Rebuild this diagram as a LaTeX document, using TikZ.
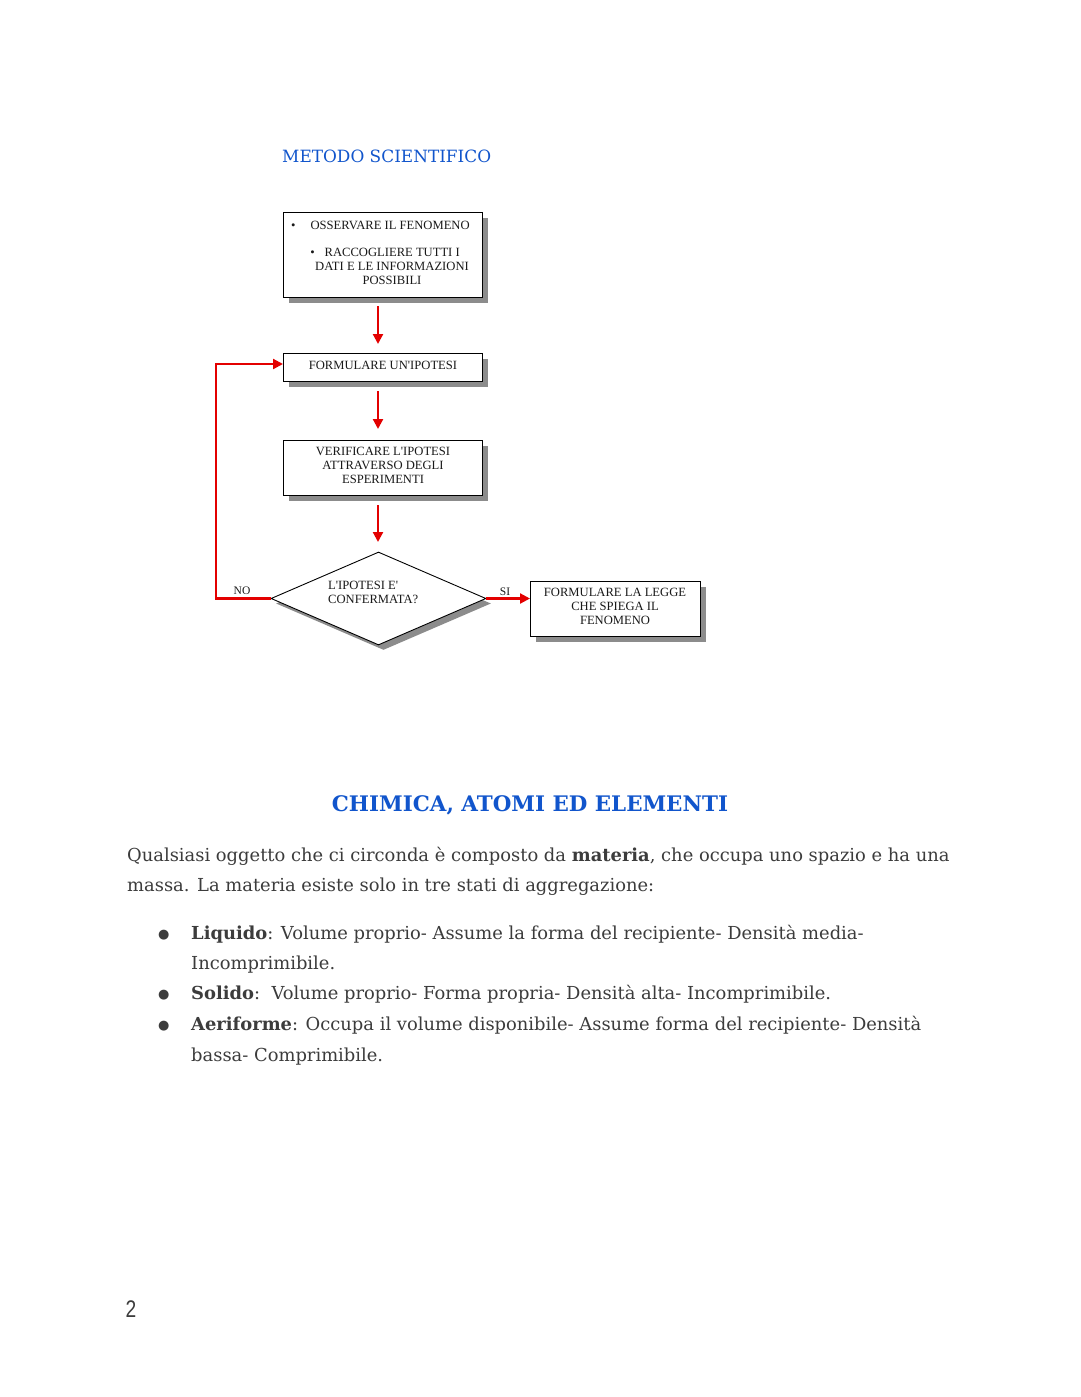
\documentclass[tikz,border=0pt]{standalone}
\usepackage{fontspec}
\setmainfont{DejaVu Serif}
\newfontfamily\tnr{Liberation Serif}
\newfontfamily\pgfont{Liberation Sans}
\usetikzlibrary{shapes.geometric,shadows,arrows.meta}
\definecolor{hblue}{HTML}{1155CC}
\definecolor{fred}{HTML}{E30000}
\definecolor{txt}{HTML}{3C3C3C}
\definecolor{shd}{HTML}{8C8C8C}
\tikzset{
  fbox/.style={draw=black, line width=0.9pt, fill=white, rectangle, inner sep=0pt,
    drop shadow={shadow xshift=6pt, shadow yshift=-6pt, fill=shd, opacity=1}},
  ftext/.style={font=\tnr\fontsize{12.6}{14}\selectfont, align=center, text=black!90, inner sep=0pt},
  farrow/.style={draw=fred, line width=2.2pt, -{Triangle[length=10pt,width=10pt]}},
  body/.style={font=\fontsize{17.9}{20}\selectfont, text=txt, anchor=base west, inner sep=0pt},
}
\begin{document}
\begin{tikzpicture}[x=1pt,y=-1pt]
\useasboundingbox[fill=white] (0,0) rectangle (1080,1397);

\node[font=\fontsize{16.9}{20}\selectfont, text=hblue, anchor=base west, inner sep=0pt] (t1) at (282,162) {METODO SCIENTIFICO};

% boxes
\node[fbox, minimum width=199pt, minimum height=85pt, anchor=north west] (b1) at (283,212) {};
\node[ftext, anchor=base west] (b1a) at (291,229) {•\hspace{15pt}OSSERVARE IL FENOMENO};
\node[ftext, anchor=north] (b1b) at (392,248) {\hspace{-14pt}•\hspace{10pt}RACCOGLIERE TUTTI I\\DATI E LE INFORMAZIONI\\POSSIBILI};

\node[fbox, minimum width=199pt, minimum height=28pt, anchor=north west] (b2) at (283,353) {};
\node[ftext] (b2t) at (383,365) {FORMULARE UN'IPOTESI};

\node[fbox, minimum width=199pt, minimum height=55pt, anchor=north west] (b3) at (283,440) {};
\node[ftext] (b3t) at (383,465) {VERIFICARE L'IPOTESI\\ATTRAVERSO DEGLI\\ESPERIMENTI};

\node[draw=black, line width=0.9pt, fill=white, diamond, inner sep=0pt, minimum width=215pt, minimum height=93pt,
  drop shadow={shadow xshift=5pt, shadow yshift=-5pt, fill=shd, opacity=1}] (d) at (378.5,598.5) {};
\node[ftext, align=left, anchor=west] (dt) at (328,592) {L'IPOTESI E'\\CONFERMATA?};

\node[fbox, minimum width=170pt, minimum height=55pt, anchor=north west] (b4) at (530,581) {};
\node[ftext] (b4t) at (615,606) {FORMULARE LA LEGGE\\CHE SPIEGA IL\\FENOMENO};

% arrows
\coordinate (a1s) at (378,306); \coordinate (a1e) at (378,344);
\coordinate (a2s) at (378,391); \coordinate (a2e) at (378,429);
\coordinate (a3s) at (378,505); \coordinate (a3e) at (378,542);
\coordinate (lp) at (216,364);
\draw[farrow] (a1s) -- (a1e);
\draw[farrow] (a2s) -- (a2e);
\draw[farrow] (a3s) -- (a3e);
\draw[farrow] (d.west) -| (lp) -- (lp -| b2.west);
\draw[farrow] (d.east) -- (d.east -| b4.west);
\node[ftext, font=\tnr\fontsize{11.5}{13}\selectfont] (no) at (242,591) {NO};
\node[ftext, font=\tnr\fontsize{11.5}{13}\selectfont] (si) at (505,592) {SI};

% text section
\node[font=\bfseries\fontsize{21.4}{25}\selectfont, text=hblue, inner sep=0pt, anchor=base] (h2) at (530,811) {CHIMICA, ATOMI ED ELEMENTI};

\node[body] (p1) at (127,861) {Qualsiasi oggetto che ci circonda è composto da \textbf{materia}, che occupa uno spazio e ha una};
\node[body] (p2) at (127,891) {massa. La materia esiste solo in tre stati di aggregazione:};

\node[body, font=\fontsize{13}{14}\selectfont] (bu1) at (158,938) {●};
\node[body] (l1) at (191,939) {\textbf{Liquido}: Volume proprio- Assume la forma del recipiente- Densità media-};
\node[body] (l1b) at (191,969) {Incomprimibile.};
\node[body, font=\fontsize{13}{14}\selectfont] (bu2) at (158,998) {●};
\node[body] (l2) at (191,999) {\textbf{Solido}:\ \ Volume proprio- Forma propria- Densità alta- Incomprimibile.};
\node[body, font=\fontsize{13}{14}\selectfont] (bu3) at (158,1029) {●};
\node[body] (l3) at (191,1030) {\textbf{Aeriforme}: Occupa il volume disponibile- Assume forma del recipiente- Densità};
\node[body] (l3b) at (191,1061) {bassa- Comprimibile.};

\node[font=\pgfont\fontsize{24}{26}\selectfont, text=txt, anchor=base, inner sep=0pt, xscale=0.8] (pg) at (131,1317) {2};
\end{tikzpicture}
\end{document}
